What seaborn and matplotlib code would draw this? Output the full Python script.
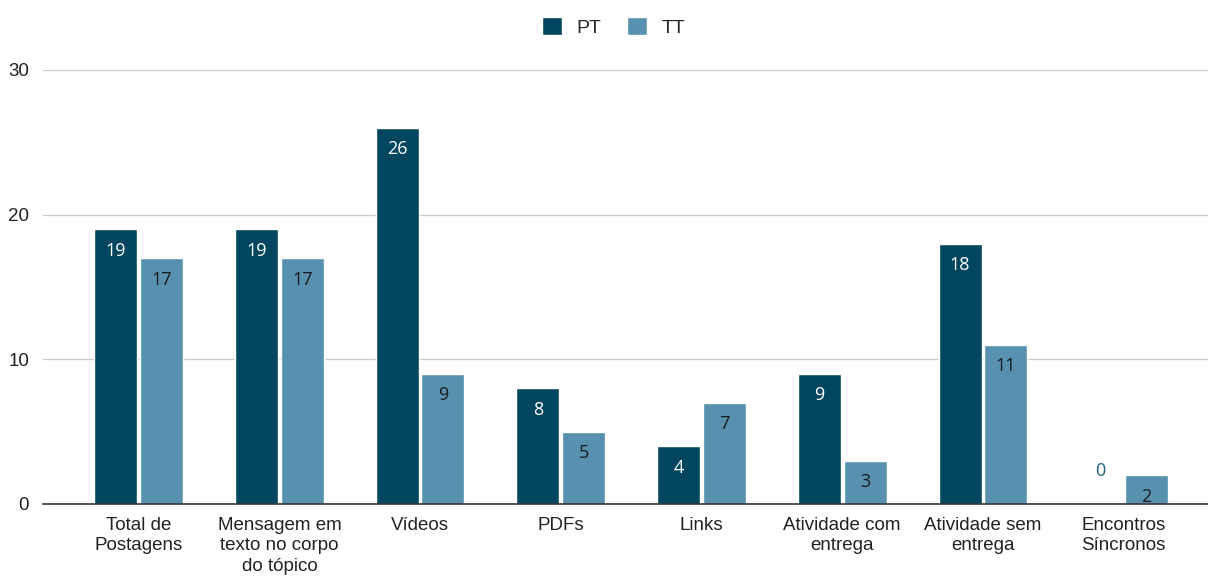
import matplotlib
matplotlib.use("Agg")
import matplotlib.pyplot as plt
import seaborn as sns
import pandas as pd

categories = ["Total de\nPostagens", "Mensagem em\ntexto no corpo\ndo tópico", "Vídeos", "PDFs",
              "Links", "Atividade com\nentrega", "Atividade sem\nentrega", "Encontros\nSíncronos"]
series_names = ["PT", "TT"]
pt_values = [19, 19, 26, 8, 4, 9, 18, 0]
tt_values = [17, 17, 9, 5, 7, 3, 11, 2]
y_ticks = [0, 10, 20, 30]

colors = {"PT": "#01465f", "TT": "#5891b0"}

sns.set_theme(style="white")
plt.rcParams['font.family'] = ['Liberation Sans', 'DejaVu Sans']

df = pd.DataFrame({
    "cat": categories * 2,
    "serie": ["PT"] * len(categories) + ["TT"] * len(categories),
    "val": pt_values + tt_values,
})

fig = plt.figure(figsize=(12.08, 5.76), dpi=100)
ax = fig.add_axes([43/1208, 1 - 504/576, 1 - 43/1208, (504 - 70)/576])

sns.barplot(data=df, x="cat", y="val", hue="serie", palette=colors, ax=ax,
            width=0.65, gap=0.06, saturation=1, legend=True, zorder=3)

ax.set_xlim(-0.68, 7.60)
ax.set_ylim(0, 30)
ax.set_yticks(y_ticks)
ax.set_ylabel("")
ax.set_xlabel("")
ax.grid(axis="y", color="#cccccc", linewidth=1, zorder=0)
for s in ["top", "right", "left"]:
    ax.spines[s].set_visible(False)
ax.spines["bottom"].set_color("#333333")
ax.spines["bottom"].set_linewidth(1.2)
ax.spines["bottom"].set_zorder(4)
ax.tick_params(axis="y", length=0, labelsize=13.5, colors="#222222", pad=10)
ax.tick_params(axis="x", length=0, labelsize=13.5, colors="#222222", pad=9)
for lbl in ax.get_xticklabels():
    lbl.set_linespacing(1.3)

for container, name in zip(ax.containers, series_names):
    for bar in container:
        h = bar.get_height()
        xc = bar.get_x() + bar.get_width() / 2
        if h == 0:
            ax.annotate(f"{int(h)}", (xc, 0), xytext=(0, 17), textcoords="offset points",
                        ha="center", va="bottom", fontsize=13, color="#1f5f80",
                        family=["Open Sans", "DejaVu Sans"])
        else:
            ax.annotate(f"{int(h)}", (xc, h), xytext=(0, -9), textcoords="offset points",
                        ha="center", va="top", fontsize=13,
                        color="white" if name == "PT" else "#1a1a1a",
                        family=["Open Sans", "DejaVu Sans"], zorder=5)

leg = ax.legend(loc="upper center", bbox_to_anchor=(0.508, 1.0), bbox_transform=fig.transFigure,
                ncol=2, frameon=False, fontsize=14, handlelength=1.0, handleheight=1.0,
                columnspacing=1.35, handletextpad=0.75)

fig.savefig("out.png", dpi=100)
